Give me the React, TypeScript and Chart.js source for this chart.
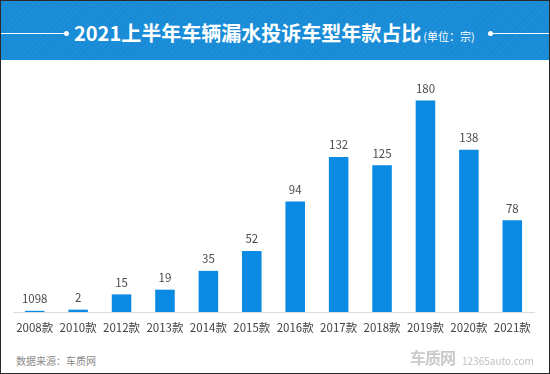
import React, { useEffect, useRef } from "react";
import { Chart, registerables } from "chart.js";

Chart.register(...registerables);

const categories = ["2008款", "2010款", "2012款", "2013款", "2014款", "2015款", "2016款", "2017款", "2018款", "2019款", "2020款", "2021款"];
const values = [1, 2, 15, 19, 35, 52, 94, 132, 125, 180, 138, 78];
const valueLabels = ["1098", "2", "15", "19", "35", "52", "94", "132", "125", "180", "138", "78"];
const yMax = 200;

const FONT = "'Noto Sans CJK SC', 'Noto Sans', sans-serif";

const valueLabelPlugin = {
  id: "valueLabels",
  afterDatasetsDraw(chart: any) {
    const ctx = chart.ctx;
    const meta = chart.getDatasetMeta(0);
    ctx.save();
    ctx.font = `11.5px ${FONT}`;
    ctx.fillStyle = "#4a4a4a";
    ctx.textAlign = "center";
    ctx.textBaseline = "middle";
    meta.data.forEach((bar: any, i: number) => {
      ctx.fillText(valueLabels[i], bar.x, bar.y - 12);
    });
    ctx.restore();
  },
};

export default function App() {
  const canvasRef = useRef<HTMLCanvasElement | null>(null);

  useEffect(() => {
    document.body.style.margin = "0";
    const chart = new Chart(canvasRef.current as HTMLCanvasElement, {
      type: "bar",
      data: {
        labels: categories,
        datasets: [
          {
            data: values,
            backgroundColor: "#0a8ae2",
            barPercentage: 0.45,
            categoryPercentage: 1,
          },
        ],
      },
      options: {
        animation: false,
        responsive: false,
        maintainAspectRatio: false,
        layout: { padding: { left: 13, right: 16, top: 17, bottom: 0 } },
        plugins: { legend: { display: false }, tooltip: { enabled: false } },
        scales: {
          x: {
            grid: { display: false },
            border: { display: true, color: "#dcdcdc", width: 1 },
            ticks: { color: "#444", font: { family: FONT, size: 11.5 }, padding: 1, maxRotation: 0, autoSkip: false },
            afterFit: (s: any) => {
              s.height = 38;
            },
          },
          y: { display: false, min: 0, max: yMax },
        },
      },
      plugins: [valueLabelPlugin],
    });
    return () => chart.destroy();
  }, []);

  return (
    <div
      style={{
        position: "fixed",
        left: 0,
        top: 0,
        width: 550,
        height: 374,
        boxSizing: "border-box",
        border: "1px solid #2a2a2a",
        background: "#fff",
        overflow: "hidden",
        fontFamily: FONT,
      }}
    >
      <div
        style={{
          position: "absolute",
          left: 0,
          top: 0,
          width: 548,
          height: 59,
          background: "repeating-linear-gradient(135deg, #1b8fda 0px, #1b8fda 2px, #1a8ad4 2px, #1a8ad4 4px)",
        }}
      >
        <div style={{ position: "absolute", left: 0, top: 32, width: 66, height: 1, background: "#fff" }} />
        <div style={{ position: "absolute", left: 63, top: 30, width: 5, height: 5, borderRadius: 3, background: "#fff" }} />
        <div style={{ position: "absolute", left: 491, top: 32, width: 60, height: 1, background: "#fff" }} />
        <div style={{ position: "absolute", left: 487, top: 30, width: 5, height: 5, borderRadius: 3, background: "#fff" }} />
        <div
          style={{
            position: "absolute",
            left: 73,
            top: 17,
            height: 30,
            whiteSpace: "nowrap",
            color: "#fff",
            fontWeight: 700,
            fontSize: 20,
            lineHeight: "30px",
          }}
        >
          2021上半年车辆漏水投诉车型年款占比
          <span style={{ fontSize: 11, fontWeight: 400, marginLeft: 2 }}>(单位：宗)</span>
        </div>
      </div>
      <canvas
        ref={canvasRef}
        width={550}
        height={290}
        style={{ position: "absolute", left: -1, top: 59, width: 550, height: 290 }}
      />
      <div style={{ position: "absolute", left: 15, top: 352, fontSize: 10, color: "#8a8a8a", whiteSpace: "nowrap" }}>
        数据来源：车质网
      </div>
      <div style={{ position: "absolute", left: 409, top: 344, fontSize: 16, color: "#cacaca", fontWeight: 700, whiteSpace: "nowrap", letterSpacing: -1 }}>
        车质网
      </div>
      <div style={{ position: "absolute", left: 461, top: 352, fontSize: 10, color: "#c0c0c0", whiteSpace: "nowrap" }}>
        12365auto.com
      </div>
    </div>
  );
}
